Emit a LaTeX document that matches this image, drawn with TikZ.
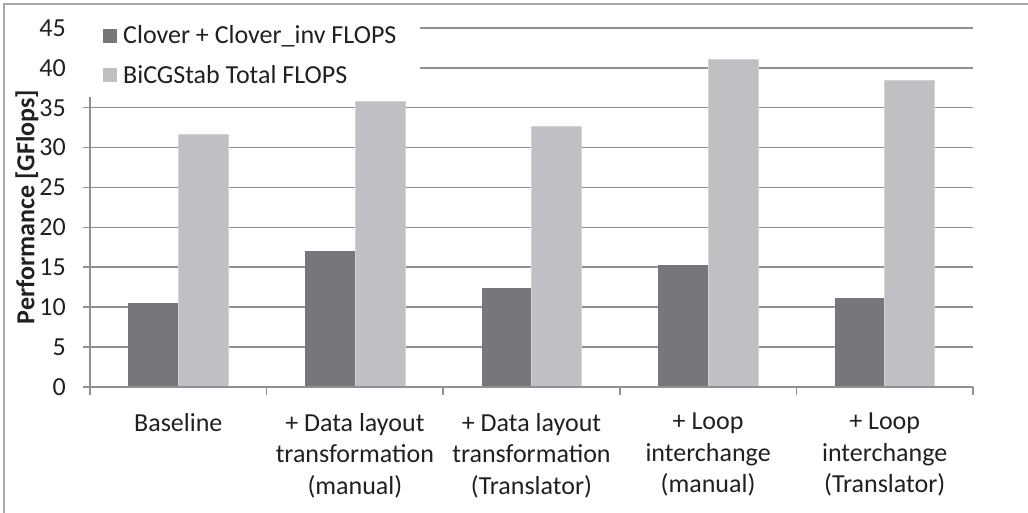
\documentclass[tikz,border=0pt]{standalone}
\usepackage{fontspec}
\setmainfont{Carlito}
\definecolor{darkbar}{HTML}{76777B}
\definecolor{lightbar}{HTML}{BFC0C3}
\definecolor{gridc}{HTML}{8F9093}
\definecolor{framec}{HTML}{A8A8A8}
\definecolor{textc}{HTML}{231F20}
\tikzset{
  chartfont/.style={font=\fontsize{26bp}{31.5bp}\selectfont, text=textc},
  gridline/.style={draw=gridc, line width=1.6bp},
  axisline/.style={draw=gridc, line width=1.6bp},
  barA/.style={fill=darkbar, draw=none},
  barB/.style={fill=lightbar, draw=lightbar!70!white, line width=0.8bp},
  ticklabel/.style={chartfont, anchor=east, inner sep=0pt},
  catlabel/.style={chartfont, anchor=north, align=center, inner sep=0pt},
  legtext/.style={chartfont, anchor=west, inner sep=0pt},
}
\begin{document}
\begin{tikzpicture}[x=1bp, y=-1bp]
\useasboundingbox (0,0) rectangle (1028,513);
% chart frame (right and bottom edges lie outside the page)
\draw[framec, line width=1.6bp] (4,513) -- (4,4) -- (1028,4);

% value axis: 0 at y=387, 7.98 units per GFlop
\def\yv#1{387-7.98*#1}
\foreach \v in {5,10,...,45} {
  \draw[gridline] (90,{\yv{\v}}) -- (973,{\yv{\v}});
}
\foreach \v in {0,5,...,45} {
  \draw[axisline] (83,{\yv{\v}}) -- (90,{\yv{\v}});
  \node[ticklabel] (yt\v) at (66,{\yv{\v}}) {\v};
}

% bars: pairs per category
\def\bw{50}
\foreach \i/\a/\b in {1/10.5/31.6, 2/17.0/35.8, 3/12.4/32.6, 4/15.3/41.1, 5/11.1/38.4} {
  \pgfmathsetmacro{\c}{90+176.6*(\i-0.5)}
  \fill[barA] ({\c-\bw},{\yv{\a}}) rectangle (\c,387);
  \filldraw[barB] (\c,{\yv{\b}}) rectangle ({\c+\bw},387);
}

% axes
\draw[axisline] (90,{\yv{45}}) -- (90,387) -- (973,387);
\foreach \k in {0,...,5} {
  \draw[axisline] ({90+176.6*\k},387) -- ({90+176.6*\k},395);
}

% legend
\fill[white] (72,8) rectangle (420,97);
\fill[darkbar] (103,29) rectangle (117,43);
\node[legtext] (leg1) at (123,36) {Clover + Clover\_inv FLOPS};
\fill[lightbar] (103,68) rectangle (117,82);
\node[legtext] (leg2) at (123,75) {BiCGStab Total FLOPS};

% axis title
\node[chartfont, font=\fontsize{26bp}{31.5bp}\selectfont\bfseries, rotate=90] (ytitle) at (27,207) {Performance [GFlops]};

% category labels
\node[catlabel] (c1) at (178.3,413) {Baseline};
\node[catlabel] (c2) at (354.9,413) {+ Data layout\\transformation\\(manual)};
\node[catlabel] (c3) at (531.5,413) {+ Data layout\\transformation\\(Translator)};
\node[catlabel] (c4) at (708.1,413) {+ Loop\\interchange\\(manual)};
\node[catlabel] (c5) at (884.7,413) {+ Loop\\interchange\\(Translator)};
\end{tikzpicture}
\end{document}
